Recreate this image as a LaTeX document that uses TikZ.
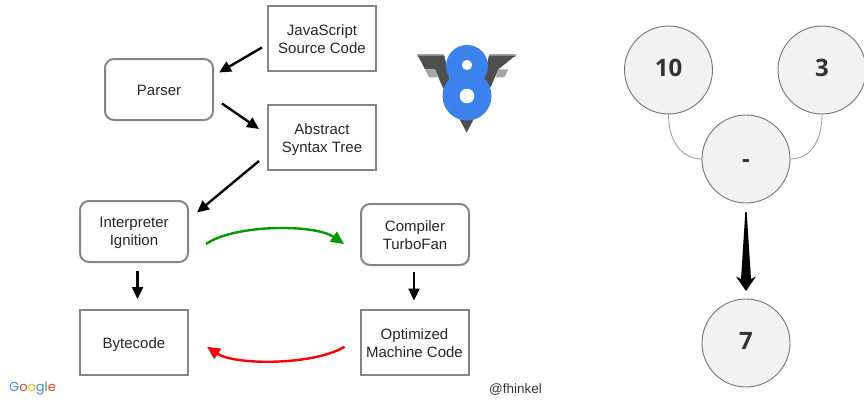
\documentclass[tikz,border=0pt]{standalone}
\usepackage{fontspec}
\setmainfont{Liberation Sans}
\newfontfamily\opensans{Open Sans}
\newfontfamily\poppins{Poppins}
\usetikzlibrary{arrows.meta,calc}
\definecolor{boxgray}{HTML}{858585}
\definecolor{ggreen}{HTML}{009900}
\definecolor{gblue}{HTML}{4285F4}
\definecolor{gred}{HTML}{EA4335}
\definecolor{gyellow}{HTML}{FBBC05}
\definecolor{ggr}{HTML}{34A853}
\definecolor{veblue}{HTML}{3B82EE}
\definecolor{vdark}{HTML}{4F4F4F}
\definecolor{vlight}{HTML}{A6A6A6}
\newcommand\tx[2]{\raisebox{#1}[\height][\depth]{\begin{tabular}{@{}c@{}}#2\end{tabular}}}
\tikzset{
 sqbox/.style={draw=boxgray,line width=2pt,minimum width=108pt,minimum height=65pt,outer sep=0pt,inner sep=0pt,font=\fontsize{15}{18}\selectfont,text=black!85},
 rbox/.style={sqbox,rounded corners=9pt,minimum height=61pt},
 blk/.style={-{Triangle[length=12pt,width=11pt]},line width=2.4pt,black},
 curved/.style={-{Triangle[length=13pt,width=12pt]},line width=2.4pt},
 vnode/.style={circle,draw=black!55,fill=black!5,line width=.9pt,minimum size=88pt,outer sep=0pt,inner sep=0pt,font=\opensans\fontsize{24}{26}\selectfont\bfseries,text=black!80},
 link/.style={draw=black!40,line width=.8pt}
}
\begin{document}
\begin{tikzpicture}[x=1pt,y=-1pt]
\useasboundingbox (0,0) rectangle (864,399);
\node[sqbox] (js) at (322,38.5) {\tx{-2pt}{JavaScript\\Source Code}};
\node[rbox] (parser) at (159,89.5) {\tx{-2pt}{Parser}};
\node[sqbox] (ast) at (322,137) {\tx{-2.5pt}{Abstract\\Syntax Tree}};
\node[rbox] (ign) at (134,231.5) {\tx{-1pt}{Interpreter\\Ignition}};
\node[rbox] (tf) at (415,234.5) {\tx{-2pt}{Compiler\\TurboFan}};
\node[sqbox] (bc) at (134,342.5) {\tx{-2pt}{Bytecode}};
\node[sqbox] (opt) at (414.5,342) {\tx{-3pt}{Optimized\\Machine Code}};
\draw[blk] ($(js.west)+(-6,9)$) -- ($(parser.east)+(6,-17)$);
\draw[blk] ($(parser.east)+(9,14)$) -- ($(ast.west)+(-9,-8)$);
\draw[blk] ($(ast.west)+(-9,24)$) -- ($(ign.east)+(9,-19)$);
\draw[blk] ($(ign.south)+(3.5,9)$) -- ($(bc.north)+(3.5,-11)$);
\draw[blk] ($(tf.south)+(-1,7)$) -- ($(opt.north)+(-.5,-9)$);
\draw[curved,ggreen] ($(ign.east)+(18,12.5)$) .. controls ($(ign.east)+(47,-7.5)$) and ($(tf.west)+(-46,-10.5)$) .. ($(tf.west)+(-17,9.5)$);
\draw[curved,red] ($(opt.west)+(-16,4.7)$) .. controls ($(opt.west)+(-46,23.4)$) and ($(bc.east)+(47,23)$) .. ($(bc.east)+(19,4.2)$);
% V8 logo
\begin{scope}[shift={(400,40)},x=.3333pt,y=-.3333pt]
\fill[vlight] (52,43) -- (132,43) -- (132,50) -- (52,50) -- cycle;
\fill[vlight] (348,43) -- (268,43) -- (268,50) -- (348,50) -- cycle;
\fill[vdark] (54,47) -- (346,47) -- (295,88) -- (275,135) -- (220,240) -- (200,278) -- (180,240) -- (125,135) -- (105,88) -- (75,88) -- cycle;
\fill[white] (133,45) -- (267,45) -- (250,120) -- (150,120) -- cycle;
\fill[vlight] (75,88) -- (105,88) -- (113,112) -- (87,112) -- cycle;
\fill[vlight] (325,88) -- (295,88) -- (287,112) -- (313,112) -- cycle;
\end{scope}
\fill[veblue,even odd rule] (467,66) circle (21) (467,65) circle (5.3);
\fill[veblue] (467,96) circle (24.5);
\fill[white] (467,96) circle (7.3);
\fill[veblue] (455,78) rectangle (479,84);
% Google
\node[anchor=base west,inner sep=0pt,font=\poppins\fontsize{13}{15}\selectfont] (g) at (9,391) {\textcolor{gblue}{G}\textcolor{gred}{o}\textcolor{gyellow}{o}\textcolor{gblue}{g}\textcolor{ggr}{l}\textcolor{gred}{e}};
\node[anchor=base west,inner sep=0pt,font=\fontsize{13.5}{15}\selectfont,text=black!80] (hnd) at (489,393) {@fhinkel};
% AST
\node[vnode] (ten) at (668.5,70) {\tx{-1.5pt}{10}};
\node[vnode] (three) at (822,70) {\tx{-1.5pt}{3}};
\node[vnode] (minus) at (746,159) {\tx{-3pt}{-}};
\node[vnode] (seven) at (746,343) {\tx{-1.5pt}{7}};
\draw[link] (ten.south) .. controls +(0,28) and +(-20,0) .. (minus.west);
\draw[link] (three.south) .. controls +(0,28) and +(20,0) .. (minus.east);
\fill[black] ($(minus.south)+(-.7,9)$) -- ($(minus.south)+(.7,9)$) -- ($(minus.south)+(5,76)$) -- ($(minus.south)+(10,73.5)$) -- ($(seven.north)+(0,-8)$) -- ($(minus.south)+(-10,73.5)$) -- ($(minus.south)+(-5,76)$) -- cycle;
\end{tikzpicture}
\end{document}
